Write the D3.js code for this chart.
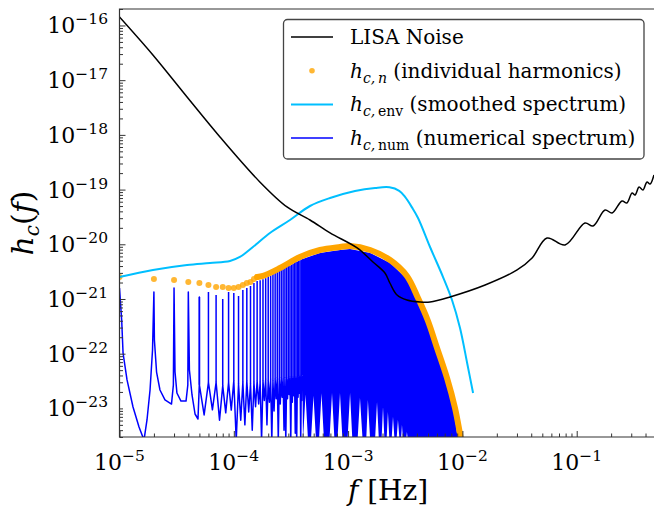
<!DOCTYPE html>
<html>
<head>
<meta charset="utf-8">
<script src="https://cdn.jsdelivr.net/npm/d3@7"></script>
<style>
  body { margin: 0; background: #fff; }
  svg { display: block; }
  text { font-family: "DejaVu Serif", serif; fill: #000; }
</style>
</head>
<body>
<svg id="chart" width="654" height="506"></svg>
<script>
// ---- data: [frequency (Hz), characteristic strain] ----

// LISA sensitivity curve
var lisaNoise = [
  [1.0e-5, 1.43e-16], [1.96e-5, 2.89e-17], [3.90e-5, 4.93e-18], [7.57e-5, 9.16e-19],
  [1.69e-4, 1.38e-19], [2.92e-4, 4.81e-20], [4.64e-4, 2.78e-20], [6.95e-4, 1.61e-20],
  [1.20e-3, 8.56e-21], [1.65e-3, 4.74e-21], [2.10e-3, 2.99e-21], [2.32e-3, 1.96e-21],
  [2.68e-3, 1.18e-21], [3.27e-3, 9.59e-22], [4.26e-3, 8.81e-22], [5.21e-3, 8.81e-22],
  [7.80e-3, 1.09e-21], [1.58e-2, 1.80e-21], [3.01e-2, 3.39e-21], [4.07e-2, 5.62e-21],
  [5.50e-2, 1.30e-20], [7.91e-2, 9.70e-21], [1.18e-1, 2.45e-20], [1.39e-1, 2.16e-20],
  [1.77e-1, 4.24e-20], [2.04e-1, 3.73e-20], [2.49e-1, 6.19e-20], [2.75e-1, 5.69e-20],
  [3.05e-1, 8.67e-20], [3.24e-1, 7.96e-20], [3.51e-1, 1.11e-19], [3.80e-1, 9.83e-20],
  [4.12e-1, 1.38e-19], [4.38e-1, 1.26e-19], [4.74e-1, 1.85e-19]
];

// smoothed (envelope) spectrum
var smoothSpec = [
  [1.0e-5, 2.53e-21], [1.96e-5, 3.39e-21], [3.90e-5, 4.19e-21], [6.19e-5, 4.55e-21],
  [9.27e-5, 4.95e-21], [1.13e-4, 5.86e-21], [1.47e-4, 8.92e-21], [2.07e-4, 1.61e-20],
  [3.10e-4, 2.78e-20], [4.64e-4, 5.01e-20], [6.95e-4, 7.02e-20], [1.15e-3, 9.42e-20],
  [1.72e-3, 1.07e-19], [2.30e-3, 1.10e-19], [2.80e-3, 9.5e-20], [3.15e-3, 7.33e-20],
  [3.62e-3, 4.73e-20], [4.09e-3, 3.03e-20], [5.21e-3, 8.92e-21], [6.77e-3, 2.52e-21],
  [8.11e-3, 9.6e-22], [9.53e-3, 2.95e-22], [1.10e-2, 6.76e-23], [1.24e-2, 1.91e-23]
];

// individual harmonics that show as separate dots (n = 1..16)
var harmonicF = [1e-5, 2e-5, 3e-5, 4e-5, 5e-5, 6e-5, 7e-5, 8e-5, 9e-5, 1.0e-4, 1.1e-4, 1.2e-4, 1.3e-4, 1.4e-4, 1.5e-4, 1.6e-4];
var harmonicH = [2.53e-21, 2.32e-21, 2.23e-21, 2.05e-21, 1.96e-21, 1.80e-21, 1.66e-21, 1.66e-21,
                 1.59e-21, 1.59e-21, 1.66e-21, 1.80e-21, 1.96e-21, 2.05e-21, 2.32e-21, 2.53e-21];

// higher harmonics, so dense the dots merge into one band
var harmonicBand = [
  [1.6e-4, 2.53e-21], [1.80e-4, 2.64e-21], [2.54e-4, 3.69e-21], [3.79e-4, 5.86e-21],
  [5.67e-4, 7.87e-21], [8.49e-4, 8.92e-21], [1.04e-3, 9.30e-21], [1.56e-3, 7.87e-21],
  [2.33e-3, 5.16e-21], [3.27e-3, 2.64e-21], [4.09e-3, 1.04e-21], [5.00e-3, 3.96e-22],
  [6.00e-3, 1.27e-22], [7.33e-3, 3.60e-23], [8.61e-3, 1.02e-23], [9.53e-3, 3.40e-24],
  [9.93e-3, 2.1e-24]
];

// numerical spectrum: first harmonics, traced as a curve
var numLow = [
  [1.0e-5, 1.59e-21], [1.045e-5, 4.13e-22], [1.074e-5, 1.03e-22], [1.164e-5, 3.31e-23],
  [1.313e-5, 1.06e-23], [1.482e-5, 4.57e-24], [1.638e-5, 2.64e-24], [1.74e-5, 6.14e-24],
  [1.85e-5, 2.17e-23], [1.945e-5, 1.17e-22], [2.0e-5, 1.34e-21], [2.02e-5, 1.78e-22],
  [2.11e-5, 4.62e-23], [2.26e-5, 2.17e-23], [2.50e-5, 1.43e-23], [2.85e-5, 1.20e-23],
  [2.96e-5, 2.68e-23], [3.0e-5, 1.59e-21], [3.06e-5, 4.62e-23], [3.18e-5, 1.91e-23],
  [3.45e-5, 1.36e-23], [3.82e-5, 1.36e-23], [3.96e-5, 2.68e-23], [4.0e-5, 1.34e-21],
  [4.09e-5, 5.03e-23], [4.31e-5, 1.76e-23], [4.58e-5, 7.9e-24], [4.86e-5, 6.4e-24],
  [4.99e-5, 2.68e-23], [5.0e-5, 1.09e-21]
];

// numerical spectrum: spikes at harmonics n = 5..40 (peak, foot) and the troughs between them
var spikeF = [5e-5, 6e-5, 7e-5, 8e-5, 9e-5, 1.0e-4, 1.1e-4, 1.2e-4, 1.3e-4, 1.4e-4, 1.5e-4, 1.6e-4,
              1.7e-4, 1.8e-4, 1.9e-4, 2.0e-4, 2.1e-4, 2.2e-4, 2.3e-4, 2.4e-4, 2.5e-4, 2.6e-4, 2.7e-4, 2.8e-4,
              2.9e-4, 3.0e-4, 3.1e-4, 3.2e-4, 3.3e-4, 3.4e-4, 3.5e-4, 3.6e-4, 3.7e-4, 3.8e-4, 3.9e-4, 4.0e-4];
var spikePeak = [1.09e-21, 1.34e-21, 1.18e-21, 1.0e-21, 1.34e-21, 1.28e-21, 1.13e-21, 1.46e-21, 1.59e-21, 1.73e-21, 1.96e-21, 2.13e-21,
                 2.2e-21, 2.3e-21, 2.4e-21, 2.6e-21, 2.7e-21, 2.85e-21, 3.0e-21, 3.1e-21, 3.25e-21, 3.4e-21, 3.5e-21, 3.7e-21,
                 3.85e-21, 4.0e-21, 4.1e-21, 4.25e-21, 4.4e-21, 4.6e-21, 4.75e-21, 4.85e-21, 5.0e-21, 5.1e-21, 5.25e-21, 5.4e-21];
var spikeFoot = [2.7e-23, 3.0e-23, 3.0e-23, 2.6e-23, 3.0e-23, 3.2e-23, 2.8e-23, 3.0e-23, 3.2e-23, 2.8e-23, 3.0e-23, 3.2e-23,
                 3.0e-23, 3.2e-23, 3.4e-23, 3.2e-23, 3.4e-23, 3.2e-23, 3.4e-23, 3.6e-23, 3.4e-23, 3.6e-23, 3.4e-23, 3.6e-23,
                 3.4e-23, 3.6e-23, 3.8e-23, 3.6e-23, 3.8e-23, 3.6e-23, 3.8e-23, 3.6e-23, 3.8e-23, 4.0e-23, 3.8e-23, 4.0e-23];
var troughF = [5.5e-5, 6.5e-5, 7.5e-5, 8.5e-5, 9.5e-5, 1.05e-4, 1.15e-4, 1.25e-4, 1.35e-4, 1.45e-4, 1.55e-4, 1.65e-4,
               1.75e-4, 1.85e-4, 1.95e-4, 2.05e-4, 2.15e-4, 2.25e-4, 2.35e-4, 2.45e-4, 2.55e-4, 2.65e-4, 2.75e-4, 2.85e-4,
               2.95e-4, 3.05e-4, 3.15e-4, 3.25e-4, 3.35e-4, 3.45e-4, 3.55e-4, 3.65e-4, 3.75e-4, 3.85e-4, 3.95e-4];
var troughH = [7.6e-24, 9.4e-24, 6.1e-24, 8.3e-24, 9.3e-24, 2.6e-24, 6.1e-24, 5.0e-24, 8.6e-24, 4.0e-24, 1.07e-23, 1.2e-23,
               2.6e-24, 1.4e-23, 5.0e-24, 1.3e-23, 2.6e-24, 9.0e-24, 1.5e-23, 2.6e-24, 1.2e-23, 1.6e-23, 4.0e-24, 2.6e-24,
               1.5e-23, 1.8e-23, 2.6e-24, 1.3e-23, 1.7e-23, 3.5e-24, 2.6e-24, 1.6e-23, 1.9e-23, 2.6e-24, 1.4e-23];

// numerical spectrum where the spikes blend: upper envelope and ragged floor
var numTop = [
  [4.0e-4, 5.4e-21], [5.67e-4, 6.93e-21], [8.49e-4, 7.87e-21], [1.04e-3, 8.2e-21],
  [1.56e-3, 6.93e-21], [2.33e-3, 4.55e-21], [3.27e-3, 2.32e-21], [4.09e-3, 9.2e-22],
  [5.00e-3, 3.49e-22], [6.00e-3, 1.12e-22], [7.33e-3, 3.17e-23], [8.44e-3, 9.35e-24],
  [9.14e-3, 2.6e-24]
];
var numFloor = [
  [4.0e-4, 1.4e-23], [4.03e-4, 2.6e-24],
  [4.03e-4, 2.6e-24], [4.24e-4, 1.8e-23], [4.46e-4, 2.6e-24],
  [4.73e-4, 2.6e-24], [4.98e-4, 1.7e-23], [5.24e-4, 2.6e-24],
  [5.56e-4, 2.6e-24], [5.85e-4, 1.9e-23], [6.15e-4, 2.6e-24],
  [6.87e-4, 2.6e-24], [7.23e-4, 1.92e-23], [7.60e-4, 2.6e-24],
  [8.07e-4, 2.6e-24], [8.49e-4, 1.92e-23], [8.93e-4, 2.6e-24],
  [9.88e-4, 2.6e-24], [1.04e-3, 1.92e-23], [1.09e-3, 2.6e-24],
  [1.21e-3, 2.6e-24], [1.27e-3, 1.56e-23], [1.34e-3, 2.6e-24],
  [1.44e-3, 2.6e-24], [1.49e-3, 1.43e-23], [1.56e-3, 2.6e-24],
  [1.72e-3, 2.6e-24], [1.79e-3, 1.31e-23], [1.86e-3, 2.6e-24],
  [1.96e-3, 2.6e-24], [2.02e-3, 1.06e-23], [2.08e-3, 2.6e-24],
  [2.17e-3, 2.6e-24], [2.23e-3, 8.6e-24], [2.30e-3, 2.6e-24],
  [2.40e-3, 2.6e-24], [2.47e-3, 7.0e-24], [2.55e-3, 2.6e-24],
  [2.65e-3, 2.6e-24], [2.73e-3, 6.2e-24], [2.82e-3, 2.6e-24],
  [2.90e-3, 2.6e-24], [2.96e-3, 5.0e-24], [3.02e-3, 2.6e-24],
  [3.21e-3, 2.6e-24], [3.27e-3, 3.7e-24], [3.34e-3, 2.6e-24],
  [9.14e-3, 2.6e-24]
];

var xMajor = [1e-5, 1e-4, 1e-3, 1e-2, 1e-1];
var xMajorExp = ["\u22125", "\u22124", "\u22123", "\u22122", "\u22121"];
var yMajor = [1e-23, 1e-22, 1e-21, 1e-20, 1e-19, 1e-18, 1e-17, 1e-16];
var yMajorExp = ["\u221223", "\u221222", "\u221221", "\u221220", "\u221219", "\u221218", "\u221217", "\u221216"];

// ---- layout ----
var plotL = 119.5, plotR = 656.6, plotT = 9, plotB = 437;

var svg = d3.select("#chart");

var x = d3.scaleLog().domain([1e-5, 0.5]).range([plotL, plotR]);
var y = d3.scaleLog().domain([3e-24, 2e-16]).range([plotB, plotT]);

svg.append("defs").append("clipPath").attr("id", "plotClip")
  .append("rect")
    .attr("x", plotL).attr("y", plotT)
    .attr("width", plotR - plotL).attr("height", plotB - plotT);

var plot = svg.append("g").attr("clip-path", "url(#plotClip)");

function lineOf(curve) {
  return d3.line()
    .x(function (d) { return x(d[0]); })
    .y(function (d) { return y(d[1]); })
    .curve(curve);
}
var straight = lineOf(d3.curveLinear);
var smooth = lineOf(d3.curveCatmullRom.alpha(0.5));

// numerical spectrum
var blue = "#0000ff";
plot.append("path")
  .attr("d", straight(numTop.concat(numFloor.slice().reverse())) + "Z")
  .attr("fill", blue);

// floor running through spike feet and troughs
var spikeFloor = [];
spikeF.forEach(function (f, i) {
  spikeFloor.push([f, spikeFoot[i]]);
  if (i < troughF.length) spikeFloor.push([troughF[i], troughH[i]]);
});

plot.append("path")
  .attr("d", straight(numLow.concat(spikeFloor)))
  .attr("fill", "none")
  .attr("stroke", blue)
  .attr("stroke-width", 1.5)
  .attr("stroke-linejoin", "round");

plot.selectAll("line.spike")
  .data(d3.zip(spikeF, spikePeak, spikeFoot))
  .enter().append("line")
    .attr("class", "spike")
    .attr("x1", function (d) { return x(d[0]); })
    .attr("x2", function (d) { return x(d[0]); })
    .attr("y1", function (d) { return y(d[2]); })
    .attr("y2", function (d) { return y(d[1]); })
    .attr("stroke", blue)
    .attr("stroke-width", 1.5);

// individual harmonics
plot.append("path")
  .attr("d", smooth(harmonicBand))
  .attr("fill", "none")
  .attr("stroke", "#ffa500")
  .attr("stroke-width", 6)
  .attr("stroke-linecap", "round");

plot.selectAll("circle.harm")
  .data(d3.zip(harmonicF, harmonicH))
  .enter().append("circle")
    .attr("class", "harm")
    .attr("cx", function (d) { return x(d[0]); })
    .attr("cy", function (d) { return y(d[1]); })
    .attr("r", 3)
    .attr("fill", "#ffa500")
    .attr("fill-opacity", 0.8);

// smoothed spectrum
plot.append("path")
  .attr("d", smooth(smoothSpec))
  .attr("fill", "none")
  .attr("stroke", "#00bfff")
  .attr("stroke-width", 2);

// LISA noise
plot.append("path")
  .attr("d", smooth(lisaNoise))
  .attr("fill", "none")
  .attr("stroke", "#000")
  .attr("stroke-width", 1.5);

// ---- axes (ticks pointing inwards) ----
var xAxis = svg.append("g")
  .attr("transform", "translate(0," + plotB + ")")
  .call(d3.axisBottom(x).tickValues(x.ticks()).tickSizeInner(-3.5).tickSizeOuter(0).tickFormat(""));
xAxis.selectAll(".tick line")
  .filter(function (d) { return xMajor.indexOf(d) >= 0; })
  .attr("y2", -6);

var yAxis = svg.append("g")
  .attr("transform", "translate(" + plotL + ",0)")
  .call(d3.axisLeft(y).tickValues(y.ticks()).tickSizeInner(-3.5).tickSizeOuter(0).tickFormat(""));
yAxis.selectAll(".tick line")
  .filter(function (d) { return yMajor.indexOf(d) >= 0; })
  .attr("x2", 6);

svg.selectAll(".domain").remove();
svg.selectAll(".tick line").attr("stroke", "#333").attr("stroke-width", 1);

// frame
svg.append("path")
  .attr("d", "M" + plotL + "," + plotB + "V" + plotT + "H" + plotR + "V" + plotB + "Z")
  .attr("fill", "none")
  .attr("stroke", "#333")
  .attr("stroke-width", 1.2);

// tick labels as 10^k
function powerLabel(sel, exp) {
  sel.append("tspan").text("10");
  sel.append("tspan").attr("dy", -9).attr("font-size", 15.5).text(exp);
}

xMajor.forEach(function (v, i) {
  var t = svg.append("text")
    .attr("x", x(v)).attr("y", 470)
    .attr("text-anchor", "middle")
    .attr("font-size", 22);
  powerLabel(t, xMajorExp[i]);
});

yMajor.forEach(function (v, i) {
  var t = svg.append("text")
    .attr("x", 108).attr("y", y(v) + 8)
    .attr("text-anchor", "end")
    .attr("font-size", 22);
  powerLabel(t, yMajorExp[i]);
});

// axis titles
var xt = svg.append("text")
  .attr("x", (plotL + plotR) / 2).attr("y", 500)
  .attr("text-anchor", "middle")
  .attr("font-size", 28);
xt.append("tspan").attr("font-style", "italic").text("f");
xt.append("tspan").text(" [Hz]");

var yt = svg.append("text")
  .attr("transform", "translate(33," + ((plotT + plotB) / 2) + ") rotate(-90)")
  .attr("text-anchor", "middle")
  .attr("font-size", 30);
yt.append("tspan").attr("font-style", "italic").text("h");
yt.append("tspan").attr("font-style", "italic").attr("font-size", 20).attr("dy", 6).text("c");
yt.append("tspan").attr("dy", -6).text("(");
yt.append("tspan").attr("font-style", "italic").text("f");
yt.append("tspan").text(")");

// ---- legend ----
var legend = svg.append("g");
legend.append("rect")
  .attr("x", 283.5).attr("y", 19.5)
  .attr("width", 360.5).attr("height", 139.5)
  .attr("rx", 4)
  .attr("fill", "#fff")
  .attr("stroke", "#444")
  .attr("stroke-width", 1.3);

var legendRows = [
  { kind: "line", color: "#000", width: 1.5, main: "LISA Noise" },
  { kind: "dot", color: "#ffa500", sub: "n", subItalic: true, rest: " (individual harmonics)" },
  { kind: "line", color: "#00bfff", width: 2, sub: "env", rest: " (smoothed spectrum)" },
  { kind: "line", color: "#0000ff", width: 1.5, sub: "num", rest: " (numerical spectrum)" }
];

legendRows.forEach(function (r, i) {
  var base = 44 + 33.7 * i;
  if (r.kind === "line") {
    legend.append("line")
      .attr("x1", 291).attr("x2", 333)
      .attr("y1", base - 7).attr("y2", base - 7)
      .attr("stroke", r.color).attr("stroke-width", r.width);
  } else {
    legend.append("circle")
      .attr("cx", 312).attr("cy", base - 7).attr("r", 2.8)
      .attr("fill", r.color).attr("fill-opacity", 0.8);
  }
  var t = legend.append("text").attr("x", 350).attr("y", base).attr("font-size", 20);
  if (r.main) {
    t.text(r.main);
  } else {
    t.append("tspan").attr("font-style", "italic").text("h");
    var s = t.append("tspan").attr("font-size", 14).attr("dy", 5);
    s.append("tspan").attr("font-style", "italic").text("c,\u2009");
    s.append("tspan").attr("font-style", r.subItalic ? "italic" : "normal").text(r.sub);
    t.append("tspan").attr("dy", -5).text(r.rest);
  }
});
</script>
</body>
</html>
